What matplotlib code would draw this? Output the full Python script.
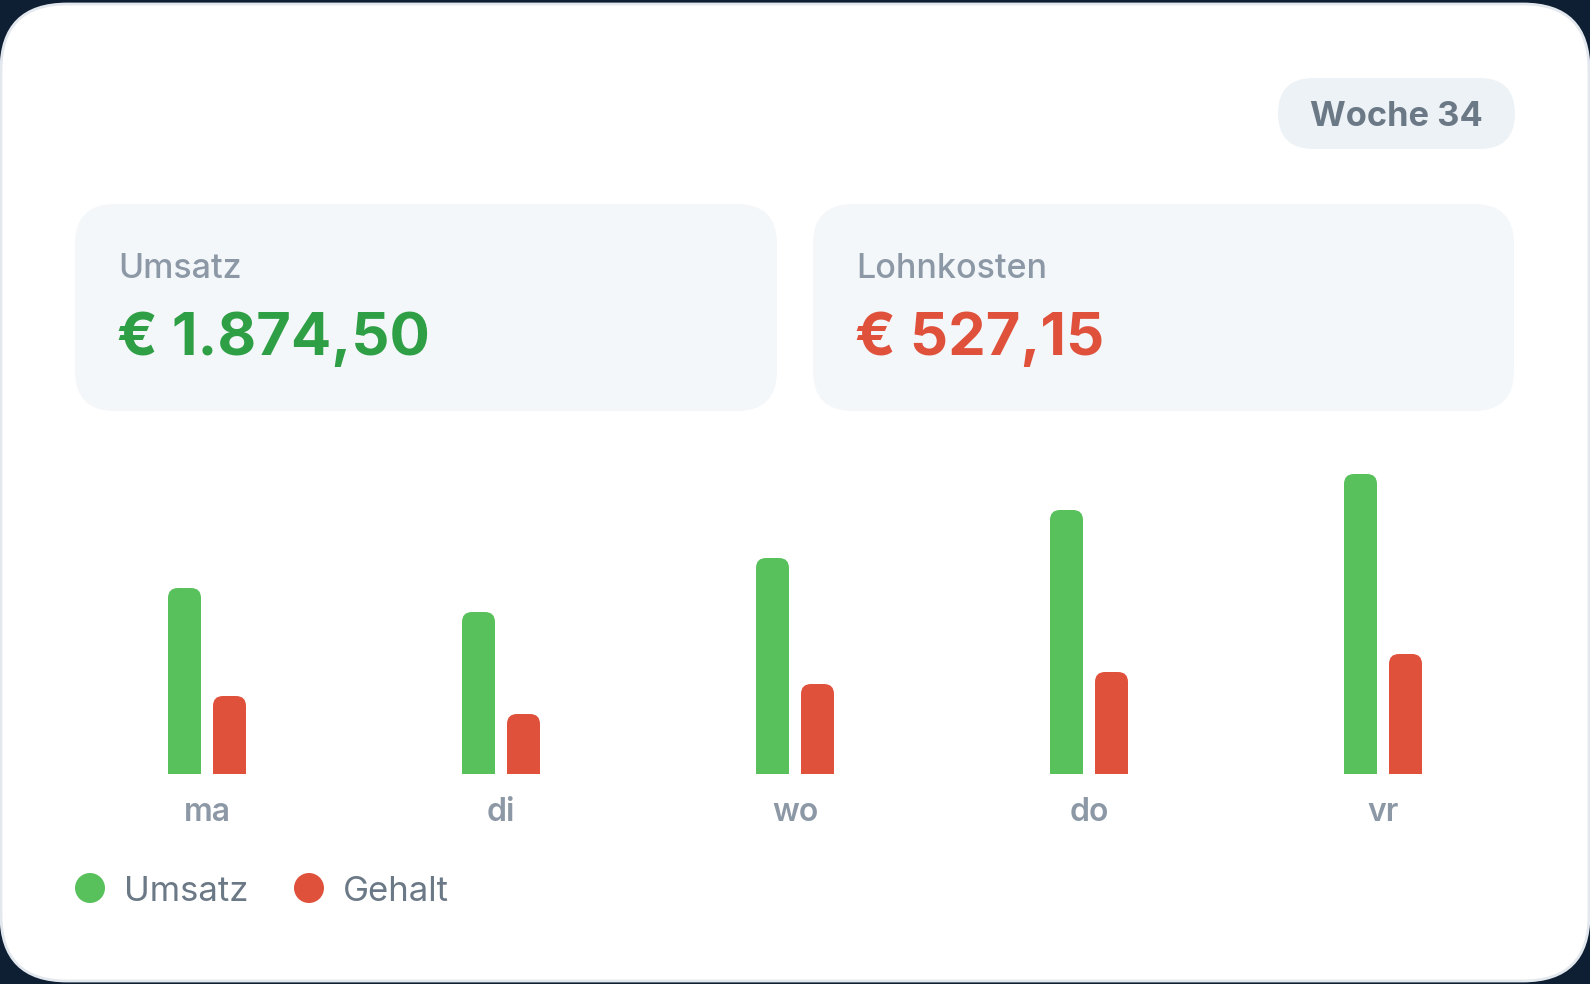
import numpy as np
import matplotlib
matplotlib.use('Agg')
import matplotlib.pyplot as plt
from matplotlib.patches import FancyBboxPatch, Circle

plt.rcParams['font.family'] = ['Inter', 'DejaVu Sans']

# data
days = ['ma', 'di', 'wo', 'do', 'vr']
umsatz = [310, 270, 360, 440, 500]
gehalt = [130, 100, 150, 170, 200]
label_umsatz = 'Umsatz'
label_lohn = 'Lohnkosten'
total_umsatz = '€ 1.874,50'
total_lohn = '€ 527,15'
week = 'Woche 34'
legend_names = ['Umsatz', 'Gehalt']

GREEN = '#58c15c'
RED = '#e0513c'
GREY = '#8c98a5'
DARK_GREY = '#6b7886'

W, H = 1590, 984
fig = plt.figure(figsize=(W / 100, H / 100), dpi=100)
fig.patch.set_facecolor('#0f1f33')

# background / card layer in pixel coords
bg = fig.add_axes([0, 0, 1, 1])
bg.set_xlim(0, W)
bg.set_ylim(H, 0)
bg.axis('off')

def rbox(x0, y0, x1, y1, r, fc, ec='none', lw=0):
    p = FancyBboxPatch((x0, y0), x1 - x0, y1 - y0,
                       boxstyle='round,pad=0,rounding_size=%g' % r,
                       fc=fc, ec=ec, lw=lw)
    bg.add_patch(p)

rbox(1, 4, 1589, 981, 66, 'white', '#e3e8ee', 2)
rbox(75, 204, 777, 411, 40, '#f3f7fa')
rbox(813, 204, 1514, 411, 40, '#f3f7fa')
rbox(1278, 78, 1515, 149, 35.5, '#edf2f6')

bg.text(1396.5, 126, week, fontsize=24.8, fontweight='bold', color=DARK_GREY,
        ha='center', va='baseline')

bg.text(118, 278, label_umsatz, fontsize=24.5, fontweight='medium', color=GREY, va='baseline')
bg.text(117, 355, total_umsatz, fontsize=43, fontweight='bold', color='#2f9f46', va='baseline')
bg.text(856, 278, label_lohn, fontsize=24.5, fontweight='medium', color=GREY, va='baseline')
bg.text(855, 355, total_lohn, fontsize=43, fontweight='bold', color=RED, va='baseline')

# legend
for cx, tx, col, name in [(90, 124, GREEN, legend_names[0]), (309, 343, RED, legend_names[1])]:
    bg.add_patch(Circle((cx, 888), 15, fc=col, ec='none'))
    bg.text(tx, 901, name, fontsize=25, color=DARK_GREY, va='baseline')

# bar chart
ax = fig.add_axes([60 / W, (H - 774) / H, 1470 / W, 300 / H])
ax.set_facecolor('none')
ax.set_xlim(-0.5, len(days) - 0.5)
ax.set_ylim(0, 500)
for s in ax.spines.values():
    s.set_visible(False)
ax.set_yticks([])

x = np.arange(len(days))
px_x = 1 / 294.0          # data units per pixel, x
px_y = 500 / 300.0        # data units per pixel, y
bw = 33 * px_x
off = 22.5 * px_x
r = 10 * px_x
aspect = px_y / px_x

for vals, sign, col in [(umsatz, -1, GREEN), (gehalt, 1, RED)]:
    for xi, v in zip(x, vals):
        p = FancyBboxPatch((xi + sign * off - bw / 2, -20), bw, v + 20,
                           boxstyle='round,pad=0,rounding_size=%g' % r,
                           mutation_aspect=aspect, fc=col, ec='none')
        ax.add_patch(p)

ax.set_xticks(x, days)
ax.tick_params(axis='x', length=0, pad=33.5, labelsize=23, labelcolor=GREY)
for t in ax.get_xticklabels():
    t.set_va('baseline')
    t.set_fontweight('semibold')

fig.savefig('out.png', dpi=100, facecolor=fig.get_facecolor())
